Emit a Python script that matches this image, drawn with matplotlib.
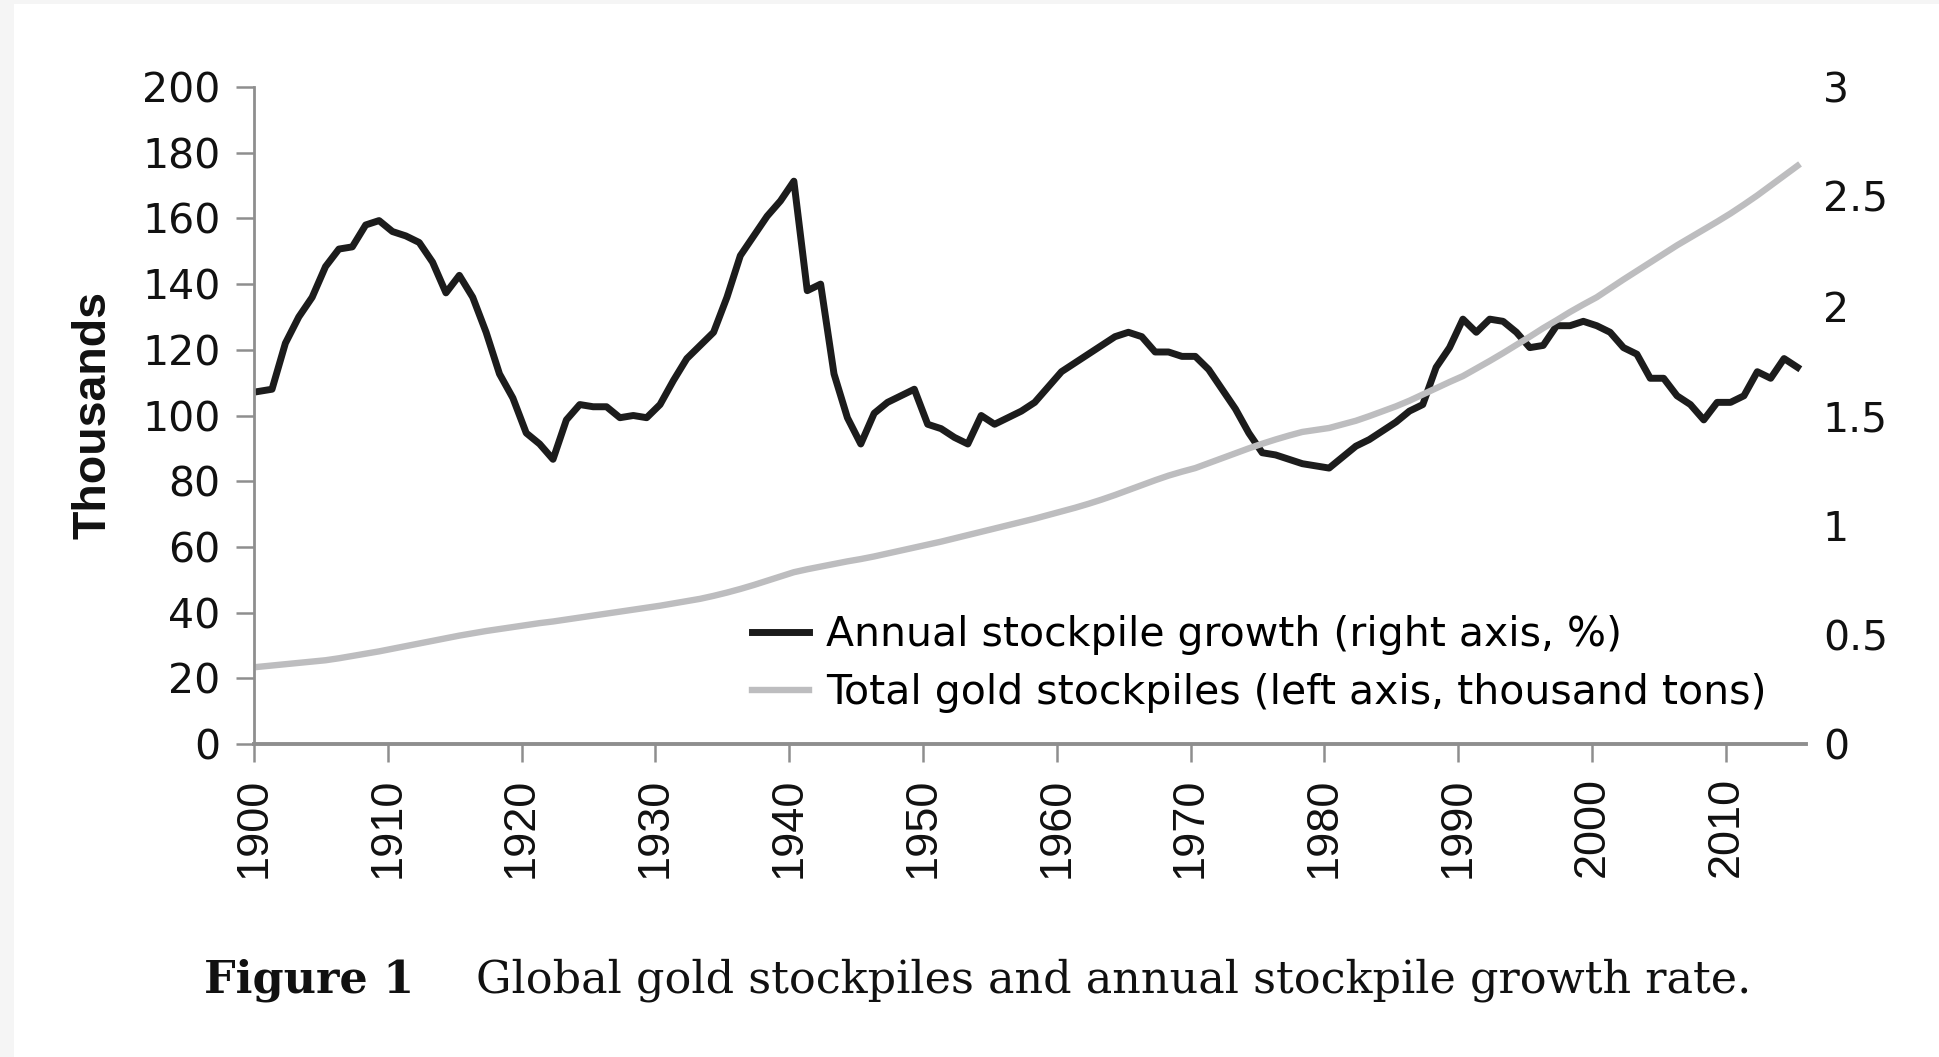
import numpy as np
import matplotlib
matplotlib.use('Agg')
import matplotlib.pyplot as plt
from matplotlib.patches import Rectangle
from matplotlib.ticker import FuncFormatter

years = list(range(1900, 2016))

# annual stockpile growth, % (right axis)
growth = [1.61, 1.62, 1.83, 1.95, 2.04, 2.18, 2.26, 2.27, 2.37, 2.39,
          2.34, 2.32, 2.29, 2.20, 2.06, 2.14, 2.04, 1.88, 1.69, 1.58,
          1.42, 1.37, 1.30, 1.48, 1.55, 1.54, 1.54, 1.49, 1.50, 1.49,
          1.55, 1.66, 1.76, 1.82, 1.88, 2.04, 2.23, 2.32, 2.41, 2.48,
          2.57, 2.07, 2.10, 1.69, 1.49, 1.37, 1.51, 1.56, 1.59, 1.62,
          1.46, 1.44, 1.40, 1.37, 1.50, 1.46, 1.49, 1.52, 1.56, 1.63,
          1.70, 1.74, 1.78, 1.82, 1.86, 1.88, 1.86, 1.79, 1.79, 1.77,
          1.77, 1.71, 1.62, 1.53, 1.42, 1.33, 1.32, 1.30, 1.28, 1.27,
          1.26, 1.31, 1.36, 1.39, 1.43, 1.47, 1.52, 1.55, 1.72, 1.81,
          1.94, 1.88, 1.94, 1.93, 1.88, 1.81, 1.82, 1.91, 1.91, 1.93,
          1.91, 1.88, 1.81, 1.78, 1.67, 1.67, 1.59, 1.55, 1.48, 1.56,
          1.56, 1.59, 1.70, 1.67, 1.76, 1.72]

# total gold stockpiles, thousand tons (left axis)
stock = [23.5, 23.9, 24.3, 24.7, 25.1, 25.5, 26.1, 26.8, 27.5, 28.2,
         29.0, 29.8, 30.6, 31.4, 32.2, 33.0, 33.7, 34.4, 35.0, 35.6,
         36.2, 36.8, 37.3, 37.9, 38.5, 39.1, 39.7, 40.3, 40.9, 41.5,
         42.1, 42.8, 43.5, 44.2, 45.1, 46.1, 47.2, 48.4, 49.7, 51.0,
         52.3, 53.2, 54.0, 54.8, 55.6, 56.3, 57.1, 58.0, 58.9, 59.8,
         60.7, 61.6, 62.6, 63.6, 64.6, 65.6, 66.6, 67.6, 68.6, 69.7,
         70.8, 71.9, 73.1, 74.4, 75.8, 77.3, 78.8, 80.3, 81.7, 82.9,
         84.0, 85.5, 87.0, 88.5, 90.0, 91.4, 92.7, 93.9, 95.0, 95.6,
         96.2, 97.3, 98.4, 99.8, 101.3, 102.8, 104.5, 106.4, 108.3, 110.2,
         112.0, 114.3, 116.6, 119.0, 121.5, 124.0, 126.6, 129.0, 131.5, 133.8,
         136.0, 138.7, 141.4, 144.0, 146.6, 149.2, 151.8, 154.2, 156.6, 159.0,
         161.5, 164.2, 167.0, 170.0, 173.0, 176.0]

left_ticks = list(range(0, 201, 20))
right_ticks = [0, 0.5, 1, 1.5, 2, 2.5, 3]
year_ticks = list(range(1900, 2011, 10))

axis_grey = '#8e8e8e'

fig = plt.figure(figsize=(19.4, 10.57), dpi=100, facecolor='#f5f5f5')
fig.patches.append(Rectangle((14 / 1940, 0), 1, 1 - 4 / 1057, transform=fig.transFigure,
                             facecolor='white', edgecolor='none', zorder=-10))

ax = fig.add_axes([0.1309, 0.2961, 0.8001, 0.6216])
ax2 = ax.twinx()
ax.set_zorder(ax2.get_zorder() + 1)
ax.patch.set_visible(False)

# points sit slightly right of the year ticks in the original (category axis)
xs = np.array(years) + 0.35
l2, = ax2.plot(xs, growth, color='#1c1c1c', lw=5, solid_joinstyle='round',
               label='Annual stockpile growth (right axis, %)')
l1, = ax.plot(xs, stock, color='#bdbdbf', lw=4.6, solid_joinstyle='round',
              label='Total gold stockpiles (left axis, thousand tons)')

ax.set_xlim(1900, 2016)
ax.set_ylim(0, 200)
ax2.set_ylim(0, 3)

for a in (ax, ax2):
    for s in a.spines.values():
        s.set_visible(False)
ax.spines['left'].set_visible(True)
ax.spines['bottom'].set_visible(True)
ax.spines['left'].set_color(axis_grey)
ax.spines['bottom'].set_color(axis_grey)
ax.spines['left'].set_linewidth(2)
ax.spines['bottom'].set_linewidth(2.8)

ax.set_yticks(left_ticks)
ax.tick_params(axis='y', length=13, width=1.8, color=axis_grey, pad=11,
               labelsize=29.5, labelcolor='#111111')
ax.set_xticks(year_ticks)
ax.set_xticklabels([str(y) for y in year_ticks], rotation=90,
                   family=['Liberation Sans', 'DejaVu Sans'], fontsize=32.5)
ax.tick_params(axis='x', length=13, width=1.8, color=axis_grey, pad=11, labelcolor='#111111')

ax2.set_yticks(right_ticks)
ax2.yaxis.set_major_formatter(FuncFormatter(lambda v, p: '%g' % v))
ax2.tick_params(axis='y', length=0, pad=12, labelsize=29.5, labelcolor='#111111')

fig.text(94 / 1940, 1 - 415 / 1057, 'Thousands', rotation=90, ha='center', va='center',
         family=['Liberation Sans Narrow', 'Liberation Sans', 'DejaVu Sans'],
         fontweight='bold', fontsize=33.5, color='#111111')

ax.legend([l2, l1], [l2.get_label(), l1.get_label()], loc='upper left',
          bbox_to_anchor=(752 / 1940, 1 - 615 / 1057), bbox_transform=fig.transFigure,
          frameon=False, fontsize=29.5, handlelength=1.4, handletextpad=0.4,
          labelspacing=0.45, borderpad=0, borderaxespad=0)

fig.text(204 / 1940, 1 - 992 / 1057, 'Figure 1', family='DejaVu Serif', fontweight='bold',
         fontsize=32, va='baseline', ha='left', color='#111111')
fig.text(476 / 1940, 1 - 992 / 1057, 'Global gold stockpiles and annual stockpile growth rate.',
         family='DejaVu Serif', fontsize=32, va='baseline', ha='left', color='#111111')

fig.savefig('out.png', dpi=100, facecolor=fig.get_facecolor())
